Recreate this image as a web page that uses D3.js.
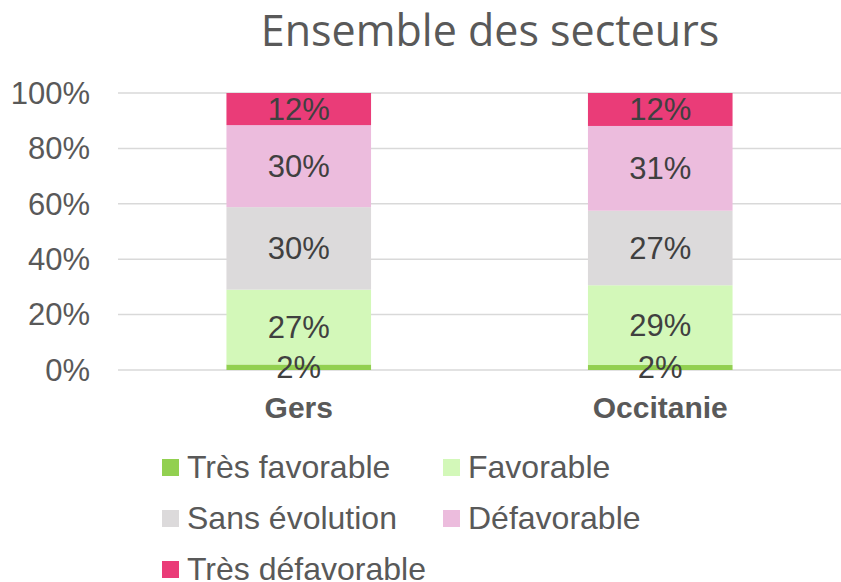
<html>
  <head>
    <meta charset="utf-8">
    <style>
      body { margin: 0; background: #fff; }
      text { font-family: "Liberation Sans", Arial, sans-serif; }
    </style>
  </head>
  <body>
    <div id="chart"></div>
    <script src="https://d3js.org/d3.v7.min.js"></script>
    <script>
      // data
      var categories = ["Gers", "Occitanie"];
      var series = ["Très favorable", "Favorable", "Sans évolution", "Défavorable", "Très défavorable"];
      var gersValues = [2.0, 27.0, 29.8, 29.6, 11.6];
      var occitanieValues = [1.8, 28.8, 26.9, 30.6, 11.9];
      var yTicks = [0, 20, 40, 60, 80, 100];
      var colors = ["#92d050", "#d3f8b9", "#dcdadb", "#ecbcdd", "#ea3c78"];

      var width = 841, height = 582;
      var margin = { top: 93, right: 0, bottom: 212, left: 118 };

      var rows = [gersValues, occitanieValues].map(function (vals, i) {
        var r = { cat: categories[i] };
        series.forEach(function (s, j) { r[s] = vals[j]; });
        return r;
      });

      var svg = d3.select("#chart").append("svg")
        .attr("width", width)
        .attr("height", height);

      var x = d3.scaleBand()
        .domain(categories)
        .range([margin.left, width - margin.right])
        .paddingInner(0.6)
        .paddingOuter(0.3);

      var y = d3.scaleLinear()
        .domain([0, 100])
        .range([height - margin.bottom, margin.top]);

      // title
      svg.append("text")
        .attr("x", 490)
        .attr("y", 46)
        .attr("text-anchor", "middle")
        .style("font-family", "'Open Sans', sans-serif")
        .style("font-size", "43px")
        .attr("fill", "#595959")
        .text("Ensemble des secteurs");

      // gridlines
      svg.append("g")
        .selectAll("line")
        .data(yTicks)
        .enter().append("line")
        .attr("x1", margin.left)
        .attr("x2", width - margin.right)
        .attr("y1", function (d) { return y(d); })
        .attr("y2", function (d) { return y(d); })
        .attr("stroke", "#d9d9d9")
        .attr("stroke-width", 1.5);

      // y labels
      svg.append("g")
        .selectAll("text")
        .data(yTicks)
        .enter().append("text")
        .attr("x", 90)
        .attr("y", function (d) { return y(d); })
        .attr("dy", "0.35em")
        .attr("text-anchor", "end")
        .attr("fill", "#595959")
        .style("font-size", "31px")
        .text(function (d) { return d + "%"; });

      var stack = d3.stack().keys(series);
      var layers = stack(rows);

      svg.append("g")
        .selectAll("g")
        .data(layers)
        .enter().append("g")
        .attr("fill", function (d, i) { return colors[i]; })
        .selectAll("rect")
        .data(function (d) { return d; })
        .enter().append("rect")
        .attr("x", function (d) { return x(d.data.cat); })
        .attr("width", x.bandwidth())
        .attr("y", function (d) { return y(d[1]); })
        .attr("height", function (d) { return y(d[0]) - y(d[1]); });

      // value labels, on top of all bars
      svg.append("g")
        .selectAll("g")
        .data(layers)
        .enter().append("g")
        .selectAll("text")
        .data(function (d) { return d; })
        .enter().append("text")
        .attr("x", function (d) { return x(d.data.cat) + x.bandwidth() / 2; })
        .attr("y", function (d) { return (y(d[0]) + y(d[1])) / 2; })
        .attr("dy", "0.35em")
        .attr("text-anchor", "middle")
        .attr("fill", "#404040")
        .style("font-size", "31px")
        .text(function (d) { return Math.round(d[1] - d[0]) + "%"; });

      // category labels
      svg.append("g")
        .selectAll("text")
        .data(categories)
        .enter().append("text")
        .attr("x", function (d) { return x(d) + x.bandwidth() / 2; })
        .attr("y", 418)
        .attr("text-anchor", "middle")
        .attr("fill", "#595959")
        .style("font-size", "30px")
        .style("font-weight", "bold")
        .text(function (d) { return d; });

      // legend
      var legend = svg.append("g")
        .selectAll("g")
        .data(series)
        .enter().append("g")
        .attr("transform", function (d, i) {
          return "translate(" + (162 + (i % 2) * 281) + "," + (467 + Math.floor(i / 2) * 51) + ")";
        });

      legend.append("rect")
        .attr("x", 0)
        .attr("y", -8)
        .attr("width", 17)
        .attr("height", 17)
        .attr("fill", function (d, i) { return colors[i]; });

      legend.append("text")
        .attr("x", 25)
        .attr("dy", "0.35em")
        .attr("fill", "#595959")
        .style("font-size", "32px")
        .text(function (d) { return d; });
    </script>
  </body>
</html>
